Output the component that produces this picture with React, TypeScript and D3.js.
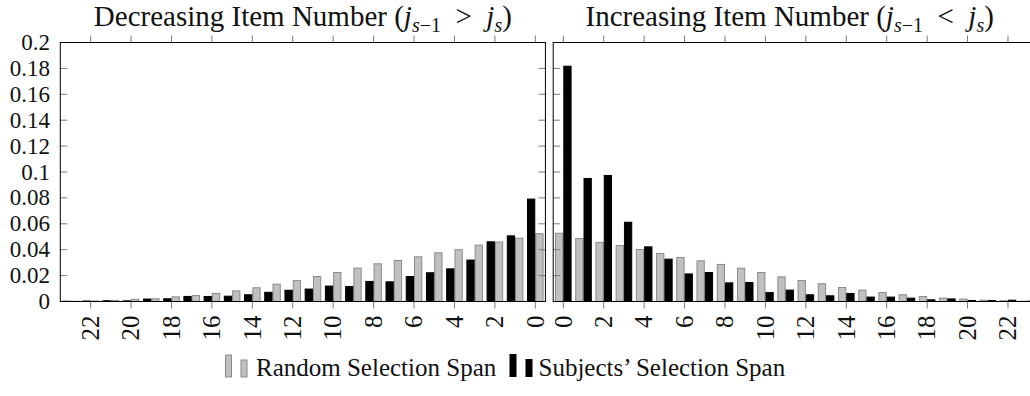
import React from "react";
import * as d3 from "d3";

// Item-span offsets 0..23 shared by both panels
const spans = d3.range(0, 24);
const tickSpans = d3.range(0, 23, 2);
const yTicks = [0, 0.02, 0.04, 0.06, 0.08, 0.1, 0.12, 0.14, 0.16, 0.18, 0.2];

// Decreasing item number (j_{s-1} > j_s)
const leftRandom = [
  0.0523, 0.0489, 0.0459, 0.0435, 0.04, 0.0376, 0.0345, 0.0317, 0.0291, 0.0258, 0.0224, 0.0193,
  0.0161, 0.0134, 0.0106, 0.0082, 0.0062, 0.0046, 0.0036, 0.0021, 0.0017, 0.0008, 0.0004, 0.0002,
];
const leftSubjects = [
  0.0791, 0.0507, 0.0461, 0.032, 0.0252, 0.0222, 0.0193, 0.0152, 0.0155, 0.0116, 0.0119, 0.0096,
  0.0087, 0.0071, 0.0052, 0.0041, 0.0039, 0.0039, 0.0021, 0.0019, 0.0005, 0.0006, 0.0004, 0.0002,
];

// Increasing item number (j_{s-1} < j_s)
const rightRandom = [
  0.0527, 0.0487, 0.0456, 0.0432, 0.0402, 0.0371, 0.034, 0.0314, 0.0286, 0.0257, 0.0224, 0.019,
  0.0162, 0.0137, 0.0108, 0.0088, 0.0069, 0.0052, 0.0039, 0.0026, 0.0019, 0.001, 0.0006, 0.0003,
];
const rightSubjects = [
  0.1817, 0.095, 0.0973, 0.0612, 0.0422, 0.0327, 0.0213, 0.0224, 0.0144, 0.0147, 0.0069, 0.0088,
  0.0052, 0.0044, 0.0062, 0.0034, 0.0034, 0.0026, 0.0013, 0.002, 0.0008, 0.0008, 0.001, 0.0003,
];

const legendLabels = ["Random Selection Span", "Subjects\u2019 Selection Span"];

const W = 1030;
const H = 396;
const FONT = "'Liberation Serif', 'DejaVu Serif', serif";
const GRAY_FILL = "#c0c0c0";
const GRAY_STROKE = "#8a8a8a";
const TICK = "#7a7a7a";
const TOP = 42.5;
const BOTTOM = 301.5;
const TICK_LEN = 7;
const BAR_W = 0.41; // in span units
const TITLE_SIZE = 29;
const SUB_SIZE = 20;

const y = d3.scaleLinear().domain([0, 0.2]).range([BOTTOM, TOP]);

type PanelProps = {
  x: d3.ScaleLinear<number, number>;
  random: number[];
  subjects: number[];
  leftTicks: boolean;
  rightTicks: boolean;
  titleX: number;
  title: React.ReactNode;
};

function Bar({ x, k, off, v, fill, stroke }: any) {
  const a = x(k + off);
  const b = x(k + off + BAR_W);
  const x0 = Math.min(a, b);
  const w = Math.abs(b - a);
  return (
    <rect
      x={x0 + 0.5}
      y={y(v)}
      width={w - 1}
      height={Math.max(0, y(0) - y(v))}
      fill={fill}
      stroke={stroke}
      strokeWidth={1}
    />
  );
}

function Panel({ x, random, subjects, leftTicks, rightTicks, titleX, title }: PanelProps) {
  const [r0, r1] = x.range();
  const xl = Math.min(r0, r1);
  const xr = Math.max(r0, r1);
  return (
    <g>
      <text x={titleX} y={26} textAnchor="middle" fontSize={TITLE_SIZE} fontFamily={FONT} fill="#111">
        {title}
      </text>
      {spans.map((k) => (
        <g key={k}>
          <Bar x={x} k={k} off={-BAR_W} v={random[k]} fill={GRAY_FILL} stroke={GRAY_STROKE} />
          <Bar x={x} k={k} off={0} v={subjects[k]} fill="#000" stroke="#000" />
        </g>
      ))}
      {/* y ticks drawn inward */}
      {yTicks.map((t) => (
        <g key={t}>
          {leftTicks && (
            <line x1={xl} x2={xl + TICK_LEN} y1={y(t)} y2={y(t)} stroke={TICK} strokeWidth={1} />
          )}
          {rightTicks && (
            <line x1={xr - TICK_LEN} x2={xr} y1={y(t)} y2={y(t)} stroke={TICK} strokeWidth={1} />
          )}
        </g>
      ))}
      {/* x ticks drawn outward on top and bottom */}
      {tickSpans.map((k) => (
        <g key={k}>
          <line x1={x(k)} x2={x(k)} y1={BOTTOM} y2={BOTTOM + TICK_LEN} stroke={TICK} strokeWidth={1} />
          <line x1={x(k)} x2={x(k)} y1={TOP} y2={TOP - TICK_LEN} stroke={TICK} strokeWidth={1} />
          <text
            transform={`translate(${x(k)},${BOTTOM + 14}) rotate(-90)`}
            textAnchor="end"
            dy="0.33em"
            fontSize={25}
            fontFamily={FONT}
            fill="#111"
          >
            {k}
          </text>
        </g>
      ))}
      <rect x={xl} y={TOP} width={xr - xl} height={BOTTOM - TOP} fill="none" stroke="#000" strokeWidth={1} />
    </g>
  );
}

function MathTitle({ word, rel }: { word: string; rel: string }) {
  return (
    <>
      {word} (<tspan fontStyle="italic">j</tspan>
      <tspan fontStyle="italic" fontSize={SUB_SIZE} dy={6}>
        s
      </tspan>
      <tspan fontSize={SUB_SIZE}>{"\u22121"}</tspan>
      <tspan dy={-6}>{`\u2002${rel}\u2002`}</tspan>
      <tspan fontStyle="italic">j</tspan>
      <tspan fontStyle="italic" fontSize={SUB_SIZE} dy={6}>
        s
      </tspan>
      <tspan dy={-6}>)</tspan>
    </>
  );
}

export default function App() {
  const xLeft = d3.scaleLinear().domain([-0.5, 23.5]).range([545.4, 60.3]);
  const xRight = d3.scaleLinear().domain([-0.5, 23.5]).range([553.2, 1038.3]);

  return (
    <svg
      width={W}
      height={H}
      viewBox={`0 0 ${W} ${H}`}
      style={{ position: "absolute", left: 0, top: 0, background: "#fff" }}
    >
      <rect width={W} height={H} fill="#fff" />
      <Panel
        x={xLeft}
        random={leftRandom}
        subjects={leftSubjects}
        leftTicks={true}
        rightTicks={true}
        titleX={xLeft(11.5)}
        title={<MathTitle word="Decreasing Item Number" rel=">" />}
      />
      <Panel
        x={xRight}
        random={rightRandom}
        subjects={rightSubjects}
        leftTicks={true}
        rightTicks={false}
        titleX={xRight(11.2)}
        title={<MathTitle word="Increasing Item Number" rel="<" />}
      />
      {/* y tick labels */}
      {yTicks.map((t) => (
        <text
          key={t}
          x={50}
          y={y(t)}
          dy="0.33em"
          textAnchor="end"
          fontSize={23}
          fontFamily={FONT}
          fill="#111"
        >
          {String(t)}
        </text>
      ))}
      {/* legend */}
      <g fontFamily={FONT} fontSize={25} fill="#111">
        <rect x={225.5} y={355} width={6} height={22} fill={GRAY_FILL} stroke={GRAY_STROKE} />
        <rect x={241} y={360} width={6} height={17} fill={GRAY_FILL} stroke={GRAY_STROKE} />
        <text x={256} y={376}>
          {legendLabels[0]}
        </text>
        <rect x={509.5} y={354} width={7} height={23} fill="#000" />
        <rect x={525.5} y={359} width={7} height={18} fill="#000" />
        <text x={538.5} y={376}>
          {legendLabels[1]}
        </text>
      </g>
    </svg>
  );
}
